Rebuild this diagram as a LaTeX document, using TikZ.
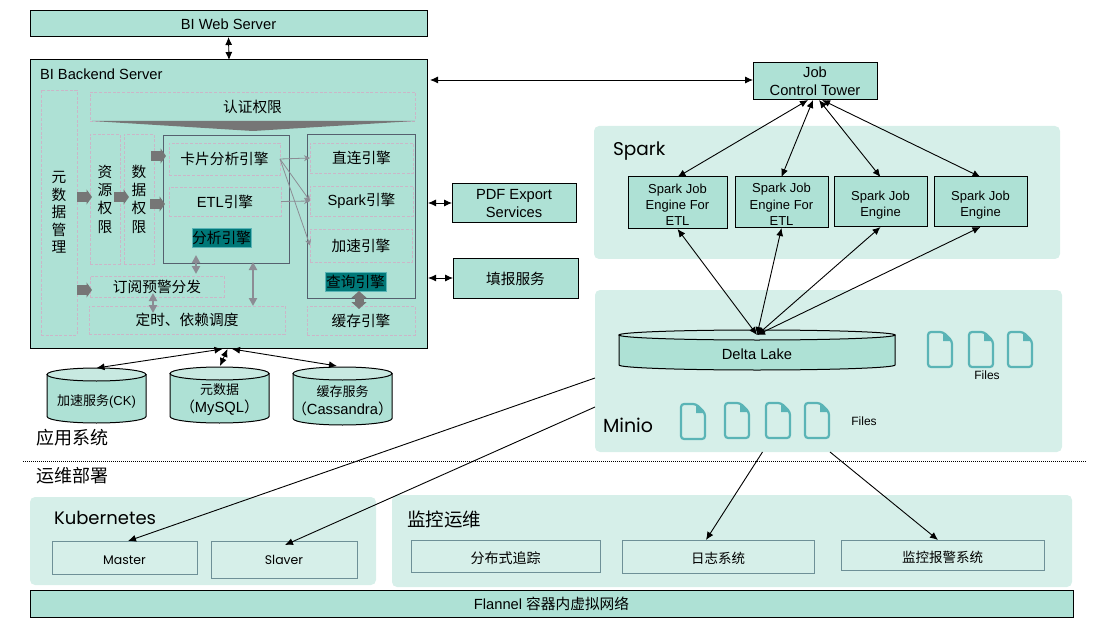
\documentclass[tikz,border=0pt]{standalone}
\usepackage{fontspec}
\setmainfont{Liberation Sans}
\newfontfamily\cjk{Noto Sans CJK SC}
\newfontfamily\geo{Poppins}
\usetikzlibrary{arrows.meta,calc}
\newcommand{\zh}[1]{{\cjk #1}}
\newcommand{\dn}[1]{\rule{0pt}{0pt}\\[#1]}
\definecolor{tealbox}{HTML}{AEE1D5}
\definecolor{tealpale}{HTML}{D6EFE9}
\definecolor{tealtop}{HTML}{C8E9E1}
\definecolor{dashc}{HTML}{CBB6C8}
\definecolor{greyarrow}{HTML}{767676}
\definecolor{thingrey}{HTML}{8C8C94}
\definecolor{framec}{HTML}{55606E}
\definecolor{hilite}{HTML}{007878}
\definecolor{iconc}{HTML}{5AB4B6}
\definecolor{subbox}{HTML}{6E9097}
\tikzset{
  base/.style={inner sep=0pt,outer sep=0pt,align=center,font=\fontsize{14.7}{18}\selectfont},
  solidbox/.style={base,draw=black,line width=1pt,fill=tealbox},
  dashbox/.style={base,draw=dashc,line width=.7pt,dash pattern=on 3pt off 1.6pt,font=\fontsize{14.7}{18.3}\selectfont},
  framebox/.style={base,draw=framec,line width=.9pt},
  region/.style={base,fill=tealpale,rounded corners=5pt},
  subb/.style={base,draw=subbox,line width=1pt,fill=tealpale,font=\fontsize{13.5}{16}\selectfont},
  hlabel/.style={base,fill=hilite,draw=iconc,line width=.4pt,font=\fontsize{14.7}{17}\selectfont},
  freetext/.style={base},
  conn/.style={draw=black,line width=.9pt,{Latex[length=8pt,width=7pt]}-{Latex[length=8pt,width=7pt]}},
  connone/.style={draw=black,line width=.9pt,-{Latex[length=8pt,width=7pt]}},
  blockar/.style={draw=greyarrow,line width=10pt,-{Triangle[length=5.5pt,width=15pt]}},
  dblthin/.style={draw=thingrey,line width=2pt,{Triangle[length=8pt,width=8pt]}-{Triangle[length=8pt,width=8pt]}},
  dblbig/.style={draw=greyarrow,line width=9pt,{Triangle[length=7pt,width=15pt]}-{Triangle[length=7pt,width=15pt]}},
  thinar/.style={draw=thingrey,line width=.8pt,-{Stealth[length=6pt,width=6pt]}},
  cylbody/.style={draw=black,line width=1pt,fill=tealbox},
  cyltop/.style={draw=black,line width=1pt,fill=tealtop},
  fileic/.style={draw=iconc,line width=2.2pt,rounded corners=3pt},
}
% style, name, x1, y1, x2, y2, text
\newcommand{\bx}[7]{%
  \pgfmathsetmacro\bxw{#5-#3}\pgfmathsetmacro\bxh{#6-#4}%
  \pgfmathsetmacro\bxc{(#3+#5)/2}\pgfmathsetmacro\bxd{(#4+#6)/2}%
  \node[#1,minimum width=\bxw pt,minimum height=\bxh pt] (#2) at (\bxc,\bxd) {#7};}
% name, x1, ytop, x2, ybot, ry, text
\newcommand{\cyl}[7]{%
  \pgfmathsetmacro\cxr{(#4-#2)/2}\pgfmathsetmacro\cxc{(#2+#4)/2}%
  \pgfmathsetmacro\cyt{#3+#6}\pgfmathsetmacro\cyb{#5-#6}%
  \path[cylbody] (#2,\cyt) -- (#2,\cyb) arc[start angle=180,end angle=360,x radius=\cxr pt,y radius=#6pt] -- (#4,\cyt) -- cycle;
  \path[cyltop] (\cxc,\cyt) ellipse[x radius=\cxr pt,y radius=#6pt];
  \bx{base}{#1}{#2}{#3}{#4}{#5}{#7}}
\newcommand{\fileicon}[2]{%
  \path[fill=iconc] (#1+15,#2) -- (#1+24,#2+9) -- (#1+15,#2+9) -- cycle;
  \path[fileic] (#1,#2) -- (#1+15,#2) -- (#1+24,#2+9) -- (#1+24,#2+35) -- (#1,#2+35) -- cycle;}
\begin{document}
\begin{tikzpicture}[x=1pt,y=-1pt]
\useasboundingbox (0,0) rectangle (1094,628);
% regions
\bx{region}{sparkr}{594}{126}{1060}{259}{}
\bx{region}{minior}{595}{290}{1062}{452}{}
\bx{region}{kubr}{30}{497}{376}{585}{}
\bx{region}{monr}{392}{495}{1072}{587}{}
% top boxes
\bx{solidbox}{web}{30}{11}{427}{37}{BI Web Server}
\bx{solidbox}{backend}{30}{60}{427}{348}{}
\node[freetext,anchor=west] (backtitle) at (40,74) {BI Backend Server};
% backend inner
\bx{dashbox}{meta}{41}{90}{77}{335}{\zh{元}\\[-.8pt]\zh{数}\\[-.8pt]\zh{据}\\[-.8pt]\zh{管}\\[-.8pt]\zh{理}}
\bx{dashbox}{auth}{90}{92}{415}{121}{\zh{认证权限}}
\path[fill=greyarrow] (92,121) -- (415,121) -- (253,131) -- cycle;
\bx{dashbox}{zy}{90}{134}{120}{264}{\zh{资}\\\zh{源}\\\zh{权}\\\zh{限}}
\bx{dashbox}{sj}{124}{134}{154}{264}{\zh{数}\\\zh{据}\\\zh{权}\\\zh{限}}
\bx{framebox}{ana}{163}{135}{289}{263}{}
\bx{dashbox}{card}{169}{143}{280}{175}{\zh{卡片分析引擎}}
\bx{dashbox}{etl}{169}{187}{281}{216}{ETL\zh{引擎}}
\bx{hlabel}{analab}{192}{228}{251}{247}{\zh{分析引擎}}
\bx{framebox}{qry}{307}{134}{415}{298}{}
\bx{dashbox}{direct}{310}{143}{413}{173}{\zh{直连引擎}}
\bx{dashbox}{sparke}{310}{186}{413}{216}{Spark\zh{引擎}}
\bx{dashbox}{accel}{310}{229}{412}{262}{\zh{加速引擎}}
\bx{hlabel}{qrylab}{325}{272}{386}{291}{\zh{查询引擎}}
\bx{dashbox}{cache}{307}{306}{415}{335}{\zh{缓存引擎}}
\bx{dashbox}{dy}{90}{276}{224}{297}{\zh{订阅预警分发}}
\bx{dashbox}{ds}{89}{306}{285}{334}{\zh{定时、依赖调度}}
% block arrows
\draw[blockar] ([yshift=15.5pt]meta.east) -- ([xshift=2pt,yshift=2pt]zy.west);
\draw[blockar] ([xshift=-6pt,yshift=2pt]zy.east) -- ([xshift=5pt,yshift=2pt]sj.west);
\draw[blockar] ([xshift=-3pt,yshift=43pt]sj.east) -- ([xshift=-3pt,yshift=3pt]card.west);
\draw[blockar] ([xshift=-4pt,yshift=-5pt]sj.east) -- ([xshift=-4pt,yshift=-2.5pt]etl.west);
\draw[blockar] ([yshift=-77.5pt]meta.east) -- ([xshift=2pt,yshift=-3.5pt]dy.west);
\draw[dblthin] ([xshift=-30pt,yshift=8pt]ana.south) -- ([xshift=39pt,yshift=2pt]dy.north);
\draw[dblthin] ([xshift=27pt,yshift=1pt]ana.south) -- ([xshift=66pt]ds.north);
\draw[dblthin] ([xshift=-4pt,yshift=4pt]dy.south) -- ([xshift=-34pt,yshift=-7pt]ds.north);
\draw[dblbig] ([xshift=-2pt,yshift=7pt]qry.south) -- ([xshift=-2pt,yshift=-3pt]cache.north);
% thin arrows
\draw[thinar] (card.east) -- (direct.west);
\draw[thinar] (card.east) -- (sparke.west);
\draw[thinar] (card.east) -- (accel.west);
\draw[thinar] (etl.east) -- (sparke.west);
% right side boxes
\bx{solidbox}{pdf}{452}{184}{576}{223}{PDF Export\\Services}
\bx{solidbox}{fill}{453}{259}{578}{298}{\zh{填报服务}}
\bx{solidbox}{jct}{753}{63}{877}{100}{Job\\Control Tower}
\node[base,font=\fontsize{18.5}{22}\geo,anchor=west] (sparkt) at (613,151) {Spark};
\tikzset{eng/.style={solidbox,font=\fontsize{13}{16.3}\selectfont}}
\bx{eng}{e1}{628}{177}{727}{229}{\dn{-3pt}Spark Job\\Engine For\\ETL}
\bx{eng}{e2}{735}{177}{828}{228}{\dn{-3pt}Spark Job\\Engine For\\ETL}
\bx{eng}{e3}{834}{177}{927}{227}{\dn{-1pt}Spark Job\\Engine}
\bx{eng}{e4}{934}{177}{1027}{227}{\dn{-1pt}Spark Job\\Engine}
% lake
\cyl{lake}{619}{330}{895}{370}{5}{\dn{2pt}Delta Lake}
\fileicon{928}{332}\fileicon{969}{332}\fileicon{1008}{332}
\fileicon{681}{404}\fileicon{725}{403}\fileicon{766}{403}\fileicon{805}{403}
\node[base,font=\fontsize{12}{14}\selectfont] (f1) at (987,375) {Files};
\node[base,font=\fontsize{12}{14}\selectfont] (f2) at (864,421) {Files};
\node[base,font=\fontsize{19}{22}\geo,anchor=west] (miniot) at (603,425) {Minio};
% databases
\cyl{db1}{47}{368}{146}{423}{6.5}{\rule{0pt}{5pt}\\[-1pt]\fontsize{13}{16}\selectfont\zh{加速服务}(CK)}
\cyl{db2}{170}{367}{269}{423}{6.5}{\rule{0pt}{6pt}\\[-3pt]\fontsize{13}{16}\selectfont\zh{元数据}\\\zh{（}MySQL\zh{）}}
\cyl{db3}{293}{367}{392}{425}{6.5}{\rule{0pt}{6pt}\\[-3pt]\fontsize{13}{16}\selectfont\zh{缓存服务}\\\zh{（}Cassandra\zh{）}}
\node[base,font=\fontsize{18}{20}\selectfont] (app) at (72,438) {\zh{应用系统}};
\node[base,font=\fontsize{18}{20}\selectfont] (ops) at (72,476) {\zh{运维部署}};
\coordinate (dl) at (23,461);
\coordinate (dr) at (1087,461);
\draw[line width=.8pt,dash pattern=on 1pt off 1pt] (dl) -- (dr);
% bottom
\node[base,font=\fontsize{18}{20}\geo,anchor=west] (kubt) at (54,518) {Kubernetes};
\node[base,font=\fontsize{18.5}{20}\selectfont,anchor=west] (mont) at (407,519) {\zh{监控运维}};
\bx{subb}{master}{52}{541}{197}{574}{\dn{-2pt}\geo\fontsize{12.5}{16}\selectfont Master}
\bx{subb}{slaver}{211}{541}{357}{578}{\geo\fontsize{12.5}{16}\selectfont Slaver}
\bx{subb}{trace}{411}{540}{600}{572}{\dn{0pt}\fontsize{14}{16}\selectfont\zh{分布式追踪}}
\bx{subb}{logs}{622}{540}{814}{573}{\dn{-1pt}\zh{日志系统}}
\bx{subb}{alarm}{841}{540}{1044}{570}{\dn{1pt}\zh{监控报警系统}}
\bx{solidbox}{flannel}{30}{590}{1073}{617}{Flannel \zh{容器内虚拟网络}}
% connectors
\draw[conn] (web.south) -- ([xshift=.5pt]backend.north);
\draw[conn] ([xshift=3pt,yshift=124pt]backend.east) -- ([yshift=1.5pt]jct.west);
\draw[conn] ([xshift=1pt,yshift=1pt]backend.east) -- ([yshift=0.5pt]pdf.west);
\draw[conn] ([xshift=1pt,yshift=-74pt]backend.east) -- ([yshift=.5pt]fill.west);
\draw[conn] ([xshift=-7pt]jct.south) -- (e1.north);
\draw[conn] ([xshift=-2pt]jct.south) -- (e2.north);
\draw[conn] ([xshift=4pt]jct.south) -- (e3.north);
\draw[conn] ([xshift=7pt]jct.south) -- (e4.north);
\draw[conn] (e1.south) -- ([yshift=-5pt]lake.north);
\draw[conn] (e2.south) -- ([yshift=-5pt]lake.north);
\draw[conn] (e3.south) -- ([yshift=-5pt]lake.north);
\draw[conn] (e4.south) -- ([yshift=-5pt]lake.north);
\draw[conn] ([xshift=-6pt,yshift=-1pt]backend.south) -- (db1.north);
\draw[conn] ([xshift=-1pt,yshift=-1pt]backend.south) -- ([xshift=.5pt,yshift=1pt]db2.north);
\draw[conn] ([xshift=3.5pt,yshift=-1pt]backend.south) -- ([xshift=-5.5pt,yshift=1pt]db3.north);
\draw[connone] ([yshift=-7pt]minior.west) -- ([xshift=3.5pt]master.north);
\draw[connone] ([yshift=-36pt]minior.west) -- ([xshift=1pt,yshift=-4pt]slaver.north);
\draw[connone] ([xshift=-66pt]minior.south) -- ([xshift=-12pt]logs.north);
\draw[connone] ([xshift=1.5pt]minior.south) -- ([xshift=-4.5pt]alarm.north);
\end{tikzpicture}
\end{document}
